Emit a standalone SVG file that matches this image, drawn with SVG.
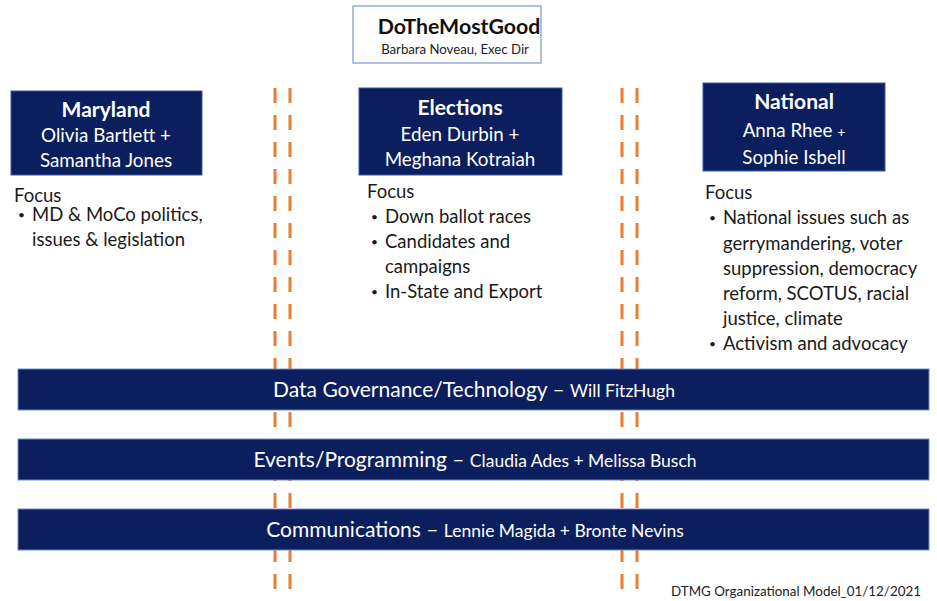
<svg xmlns="http://www.w3.org/2000/svg" width="937" height="601" viewBox="0 0 937 601">
  <style>
    text { font-family: Lato, "Open Sans", "Liberation Sans", sans-serif; }
    .team { fill: #0B1F5E; stroke: #3A5AA8; stroke-width: 1; }
    .bar { fill: #0B1F5E; stroke: #6F8AC8; stroke-width: 1; }
    .head { fill: #FFFFFF; font-size: 21px; font-weight: bold; text-anchor: middle; }
    .lead { fill: #FFFFFF; font-size: 18.8px; text-anchor: middle; }
    .focus { fill: #1A1A1A; font-size: 18.5px; }
    .dot { fill: #1A1A1A; font-size: 12px; }
    .barText { fill: #FFFFFF; font-size: 21px; text-anchor: middle; }
    .barName { font-size: 17.5px; }
    .divider { stroke: #ED7D31; stroke-width: 3; stroke-dasharray: 15 12; fill: none; }
  </style>

  <!-- dashed column dividers, drawn first so the bars sit on top -->
  <g id="connectors">
    <line class="divider" x1="275" y1="88" x2="275" y2="590"/>
    <line class="divider" x1="290" y1="88" x2="290" y2="590"/>
    <line class="divider" x1="622" y1="88" x2="622" y2="590"/>
    <line class="divider" x1="637" y1="88" x2="637" y2="590"/>
  </g>

  <!-- executive director -->
  <g id="dtmg">
    <rect x="353" y="6" width="188" height="57" fill="#FFFFFF" stroke="#7F95CC" stroke-width="1.2"/>
    <text x="459" y="34" font-size="21.3" font-weight="bold" text-anchor="middle" fill="#111111">DoTheMostGood</text>
    <text x="455" y="54" font-size="13.2" text-anchor="middle" fill="#222222">Barbara Noveau, Exec Dir</text>
  </g>

  <!-- Maryland team -->
  <g id="maryland">
    <rect class="team" x="11" y="91" width="191" height="84"/>
    <text class="head" x="106" y="117">Maryland</text>
    <text class="lead" x="106" y="142">Olivia Bartlett +</text>
    <text class="lead" x="106" y="167">Samantha Jones</text>
    <text class="focus" x="14" y="202">Focus</text>
    <text class="dot" x="18" y="219">•</text>
    <text class="focus" x="32" y="221">MD &amp; MoCo politics,</text>
    <text class="focus" x="32" y="246">issues &amp; legislation</text>
  </g>

  <!-- Elections team -->
  <g id="elections">
    <rect class="team" x="359" y="88" width="203" height="87"/>
    <text class="head" x="460" y="115">Elections</text>
    <text class="lead" x="460" y="141">Eden Durbin +</text>
    <text class="lead" x="460" y="166">Meghana Kotraiah</text>
    <text class="focus" x="367" y="198">Focus</text>
    <text class="dot" x="371" y="221">•</text>
    <text class="focus" x="385" y="223">Down ballot races</text>
    <text class="dot" x="371" y="246">•</text>
    <text class="focus" x="385" y="248">Candidates and</text>
    <text class="focus" x="385" y="273">campaigns</text>
    <text class="dot" x="371" y="296">•</text>
    <text class="focus" x="385" y="298">In-State and Export</text>
  </g>

  <!-- National team -->
  <g id="national">
    <rect class="team" x="703" y="83" width="182" height="88"/>
    <text class="head" x="794" y="109">National</text>
    <text class="lead" x="794" y="137">Anna Rhee <tspan font-size="14">+</tspan></text>
    <text class="lead" x="794" y="164">Sophie Isbell</text>
    <text class="focus" x="705" y="199">Focus</text>
    <text class="dot" x="709" y="222">•</text>
    <text class="focus" x="723" y="224">National issues such as</text>
    <text class="focus" x="723" y="250">gerrymandering, voter</text>
    <text class="focus" x="723" y="275">suppression, democracy</text>
    <text class="focus" x="723" y="300">reform, SCOTUS, racial</text>
    <text class="focus" x="723" y="325">justice, climate</text>
    <text class="dot" x="709" y="348">•</text>
    <text class="focus" x="723" y="350">Activism and advocacy</text>
  </g>

  <!-- shared functions spanning all teams -->
  <g id="data-governance">
    <rect class="bar" x="18" y="369" width="911" height="41"/>
    <text class="barText" x="474" y="397">Data Governance/Technology – <tspan class="barName">Will FitzHugh</tspan></text>
  </g>
  <g id="events">
    <rect class="bar" x="18" y="439" width="911" height="41"/>
    <text class="barText" x="475" y="467">Events/Programming – <tspan class="barName">Claudia Ades + Melissa Busch</tspan></text>
  </g>
  <g id="communications">
    <rect class="bar" x="18" y="509" width="911" height="41"/>
    <text class="barText" x="475" y="537">Communications – <tspan class="barName">Lennie Magida + Bronte Nevins</tspan></text>
  </g>

  <g id="footer">
    <text x="921" y="596" font-size="13.4" text-anchor="end" fill="#222222">DTMG Organizational Model_01/12/2021</text>
  </g>
</svg>
